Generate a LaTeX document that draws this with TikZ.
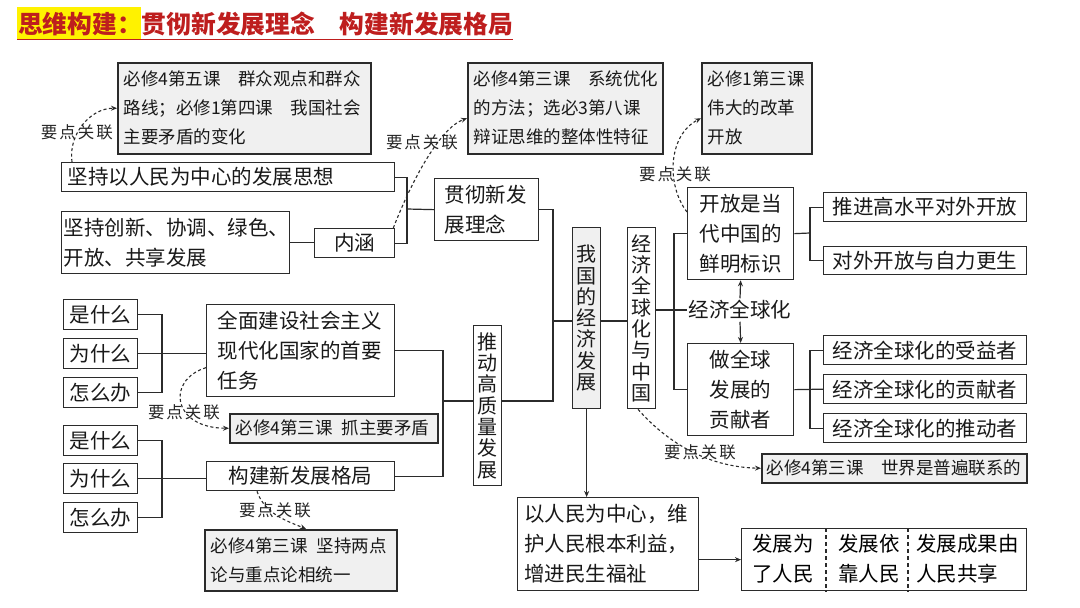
\documentclass[tikz,border=0pt]{standalone}
\usepackage{fontspec}
\setmainfont{Noto Sans CJK SC}
\usetikzlibrary{arrows.meta,calc}
\definecolor{ln}{HTML}{2B2B2B}
\definecolor{reffill}{HTML}{F0F0F0}
\definecolor{titlered}{HTML}{BE1E1E}
\definecolor{hl}{HTML}{FFF200}
\newcommand\mf{\fontsize{20.5}{30}\selectfont}
\newcommand\rf{\fontsize{17.5}{29}\selectfont}
\newcommand\ydgl{要\hspace{2pt}点\hspace{2pt}关\hspace{2pt}联}
\begin{document}
\begin{tikzpicture}[x=1pt,y=-1pt,
  box/.style={draw=ln, line width=1.3pt, fill=white, anchor=north west, inner ysep=0pt, font=\mf, text=black!90},
  refbox/.style={box, fill=reffill, font=\rf, line width=1.5pt, align=left},
  conn/.style={draw=ln, line width=1.2pt},
  arr/.style={conn, -{Stealth[length=6pt,width=5pt]}},
  rel/.style={draw=ln, line width=1.1pt, dash pattern=on 3pt off 2.5pt, -{Stealth[length=6pt,width=5pt]}},
  lbl/.style={font=\fontsize{16.5}{16.5}\selectfont, inner sep=0pt, text=black!85},
  vbox/.style={box, align=center, inner xsep=0pt, text width=28pt, font=\fontsize{20}{21.3}\selectfont}
]
\useasboundingbox (0,0) rectangle (1080,608);
\fill[white] (0,0) rectangle (1080,608);

% title
\fill[hl] (17,7) rectangle (141,40);
\node[anchor=west, font=\fontsize{24.75}{24.75}\selectfont\bfseries, text=titlered, inner sep=0pt] (title) at (18,24) {思维构建：贯彻新发展理念　构建新发展格局};
\draw[titlered, line width=1.3pt] (17,39.5) -- (513,39.5);

% reference boxes
\node[refbox, text width=241pt, inner xsep=6pt, minimum height=91pt] (B1) at (117,62) {必修4第五课　群众观点和群众\\路线；必修1第四课　我国社会\\主要矛盾的变化};
\node[refbox, text width=183pt, inner xsep=6pt, minimum height=91pt] (B2) at (467,62) {必修4第三课　系统优化\\的方法；选必3第八课\\辩证思维的整体性特征};
\node[refbox, text width=98pt, inner xsep=6pt, minimum height=91pt] (B3) at (701,62) {必修1第三课\\伟大的改革\\开放};
\node[refbox, text width=196pt, inner xsep=6pt, minimum height=29pt] (B4) at (229,413) {必修4第三课\hspace{0.5em}抓主要矛盾};
\node[refbox, text width=180pt, inner xsep=6pt, minimum height=61pt] (B5) at (204,529) {必修4第三课\hspace{0.5em}坚持两点\\论与重点论相统一};
\node[refbox, text width=255pt, inner xsep=5pt, minimum height=29pt] (B6) at (761,453) {必修4第三课　世界是普遍联系的};

% main boxes, left top
\node[box, align=left, text width=321pt, inner xsep=6pt, minimum height=29pt] (A1) at (61,162) {坚持以人民为中心的发展思想};
\node[box, align=left, text width=224pt, inner xsep=2pt, minimum height=62pt] (A2) at (61,211) {坚持创新、协调、绿色、\\开放、共享发展};
\node[box, align=center, text width=70pt, inner xsep=5pt, minimum height=29pt] (neihan) at (314,228) {内涵};
\node[box, align=left, text width=84pt, inner xsep=10pt, minimum height=62pt] (guanche) at (434,178) {贯彻新发\\展理念};

% left middle
\node[box, align=left, text width=166pt, inner xsep=11pt, minimum height=92pt] (quanmian) at (206,304) {全面建设社会主义\\现代化国家的首要\\任务};
\node[box, align=center, text width=178pt, inner xsep=5pt, minimum height=29pt] (goujian) at (206,461) {构建新发展格局};
\foreach \n/\t/\y in {shi1/是什么/299, wei1/为什么/338, zen1/怎么办/377, shi2/是什么/425, wei2/为什么/463, zen2/怎么办/502}
  \node[box, align=center, text width=64pt, inner xsep=5pt, minimum height=30pt] (\n) at (63,\y) {\t};

% vertical boxes
\node[vbox, minimum height=160pt] (tuidong) at (473,325) {推\\动\\高\\质\\量\\发\\展};
\node[vbox, minimum height=181pt, fill=reffill] (woguo) at (572,227) {我\\国\\的\\经\\济\\发\\展};
\node[vbox, minimum height=181pt] (jj) at (627,227) {经\\济\\全\\球\\化\\与\\中\\国};

% right side
\node[box, align=center, text width=96pt, inner xsep=5pt, minimum height=92pt] (kaifang) at (687,187) {开放是当\\代中国的\\鲜明标识};
\node[font=\mf, inner sep=2pt, text=black!90] (jqh) at (740,310) {经济全球化};
\node[box, align=center, text width=96pt, inner xsep=5pt, minimum height=92pt] (zuo) at (687,343) {做全球\\发展的\\贡献者};
\node[box, align=left, text width=185pt, inner xsep=9pt, minimum height=29pt] (tuijin) at (823,192) {推进高水平对外开放};
\node[box, align=left, text width=185pt, inner xsep=9pt, minimum height=28pt] (duiwai) at (823,246) {对外开放与自力更生};
\node[box, align=left, text width=185pt, inner xsep=9pt, minimum height=29pt] (shouyi) at (823,335) {经济全球化的受益者};
\node[box, align=left, text width=185pt, inner xsep=9pt, minimum height=29pt] (gongxian) at (823,374) {经济全球化的贡献者};
\node[box, align=left, text width=185pt, inner xsep=9pt, minimum height=29pt] (tuidongzhe) at (823,413) {经济全球化的推动者};

% bottom
\node[box, align=left, text width=168pt, inner xsep=6.5pt, minimum height=93pt] (ren) at (517,497) {以人民为中心，维\\护人民根本利益，\\增进民生福祉};
\node[box, minimum width=285pt, minimum height=62pt] (fin) at (741,528) {};
\node[font=\mf, align=left, anchor=west, inner sep=0pt] (f1) at (752,559) {发展为\\了人民};
\node[font=\mf, align=left, anchor=west, inner sep=0pt] (f2) at (838,559) {发展依\\靠人民};
\node[font=\mf, align=left, anchor=west, inner sep=0pt] (f3) at (916,559) {发展成果由\\人民共享};
\draw[ln, line width=1.1pt, dash pattern=on 4pt off 3pt] (fin.north west) ++(85,0) coordinate (d1) -- (d1 |- fin.south);
\draw[ln, line width=1.1pt, dash pattern=on 4pt off 3pt] (fin.north west) ++(167,0) coordinate (d2) -- (d2 |- fin.south);

% connectors
\coordinate (j1) at (407,209);
\draw[conn] (A2.east) -- (A2.east -| neihan.west);
\draw[conn] (A1.east) -| (j1) |- (neihan.east);
\draw[conn] (j1) -- (guanche.west);

\coordinate (j2) at (553,321);
\coordinate (j2b) at (553,401);
\draw[conn] (guanche.east) -| (j2b) -- (j2b -| tuidong.east);
\draw[conn] (j2) -- (j2 -| woguo.west);
\draw[conn] (j2 -| woguo.east) -- (j2 -| jj.west);

\coordinate (j3) at (674,310);
\draw[conn] (kaifang.west) -| (j3) |- (zuo.west);
\draw[conn] (j3 -| jj.east) -- (jqh.west);
\draw[arr] (jqh.north) -- (kaifang.south);
\draw[arr] (jqh.south) -- (zuo.north);

\coordinate (j4) at (810,233);
\draw[conn] (kaifang.east) -- (j4);
\draw[conn] (tuijin.west) -| (j4) |- (duiwai.west);
\coordinate (j5) at (810,389);
\draw[conn] (zuo.east) -- (gongxian.west);
\draw[conn] (shouyi.west) -| (j5) |- (tuidongzhe.west);

\coordinate (j6) at (162,353);
\draw[conn] (shi1.east) -| (j6) |- (zen1.east);
\draw[conn] (wei1.east) -- (wei1.east -| quanmian.west);
\coordinate (j7) at (162,478);
\draw[conn] (shi2.east) -| (j7) |- (zen2.east);
\draw[conn] (wei2.east) -- (wei2.east -| goujian.west);

\coordinate (j8) at (443,401);
\draw[conn] (quanmian.east) -| (j8) |- (goujian.east);
\draw[conn] (j8) -- (j8 -| tuidong.west);

\draw[arr] (woguo.south) -- (woguo.south |- ren.north);
\draw[arr] (ren.east |- fin.west) -- (fin.west);

% related-point dashed links
\draw[rel] ([xshift=11pt]A1.north west) .. controls (68,135) and (90,108) .. (B1.west);
\draw[rel] ([xshift=-2pt]neihan.north east) .. controls (412,180) and (440,128) .. ([yshift=-10pt]B2.west);
\draw[rel] ([yshift=-25pt]kaifang.north west) .. controls (666,185) and (668,135) .. ([yshift=-10pt]B3.west);
\draw[rel] ([yshift=-17pt]quanmian.west) .. controls (166,380) and (172,428) .. (B4.west);
\draw[rel] ([xshift=51pt]goujian.south west) .. controls (265,515) and (290,522) .. ([xshift=102pt]B5.north west);
\draw[rel] ([xshift=11pt]jj.south west) .. controls (665,440) and (705,467) .. (B6.west);

\node[lbl] (L1) at (77,132) {\ydgl};
\node[lbl] (L2) at (422,142) {\ydgl};
\node[lbl] (L3) at (675,174) {\ydgl};
\node[lbl] (L4) at (184,412) {\ydgl};
\node[lbl] (L5) at (275,510) {\ydgl};
\node[lbl] (L6) at (700,452) {\ydgl};
\end{tikzpicture}
\end{document}
